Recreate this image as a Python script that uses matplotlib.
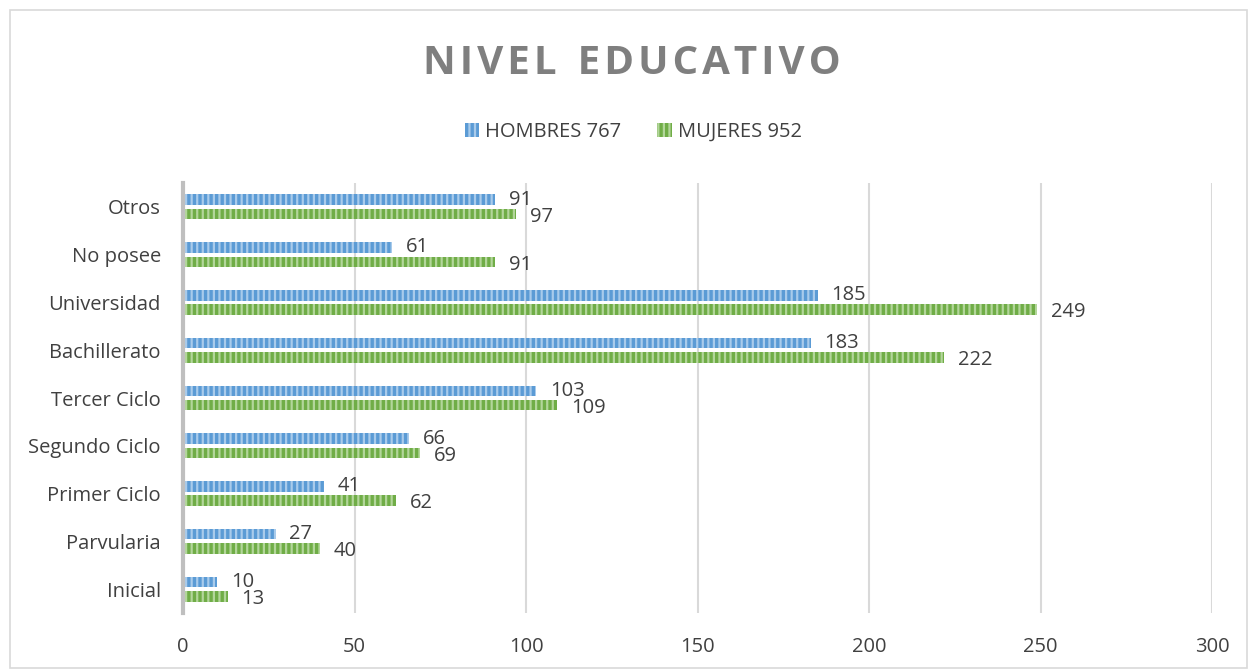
import numpy as np
import matplotlib.pyplot as plt
from matplotlib.patches import Rectangle, Patch

categories = ['Inicial', 'Parvularia', 'Primer Ciclo', 'Segundo Ciclo', 'Tercer Ciclo',
              'Bachillerato', 'Universidad', 'No posee', 'Otros']
hombres = [10, 27, 41, 66, 103, 183, 185, 61, 91]
mujeres = [13, 40, 62, 69, 109, 222, 249, 91, 97]
series_names = ['HOMBRES 767', 'MUJERES 952']
x_ticks = [0, 50, 100, 150, 200, 250, 300]

plt.rcParams['font.family'] = ['Open Sans', 'DejaVu Sans']
plt.rcParams['hatch.linewidth'] = 1.6

blue = '#5B9BD5'
blue_light = '#A9CBEB'
green = '#70AD47'
green_light = '#B3D69B'
text_col = '#404040'

fig = plt.figure(figsize=(12.49, 6.70), dpi=100)
fig.patches.append(Rectangle((10 / 1249, 2 / 670), 1237 / 1249, 658 / 670,
                             transform=fig.transFigure, fill=False,
                             edgecolor='#D9D9D9', linewidth=1.2))

ax = fig.add_axes([183 / 1249, 57 / 670, 1029 / 1249, 430 / 670])

y = np.arange(len(categories))
h = 0.22
off = 0.15
ax.barh(y + off, hombres, height=h, color=blue, edgecolor=blue_light,
        linewidth=0, hatch='|||', zorder=3)
ax.barh(y - off, mujeres, height=h, color=green, edgecolor=green_light,
        linewidth=0, hatch='|||', zorder=3)

for yi, v in zip(y, hombres):
    ax.annotate(str(v), (v, yi + off), xytext=(10, 0), textcoords='offset points',
                va='center', ha='left', fontsize=14.5, color=text_col)
for yi, v in zip(y, mujeres):
    ax.annotate(str(v), (v, yi - off), xytext=(10, -2), textcoords='offset points',
                va='center', ha='left', fontsize=14.5, color=text_col)

ax.set_xlim(0, 300)
ax.set_ylim(-0.5, len(categories) - 0.5)
ax.set_xticks(x_ticks)
ax.set_xticklabels([str(t) for t in x_ticks])
ax.set_yticks(y)
ax.set_yticklabels(categories)
ax.tick_params(axis='both', length=0, labelsize=14.5, labelcolor=text_col)
ax.tick_params(axis='x', pad=17)
ax.tick_params(axis='y', pad=16)
ax.grid(axis='x', color='#D9D9D9', linewidth=1.5, zorder=0)
for s in ['top', 'right', 'bottom']:
    ax.spines[s].set_visible(False)
ax.spines['left'].set_color('#BFBFBF')
ax.spines['left'].set_linewidth(3)
ax.spines['left'].set_zorder(4)

fig.text(0.506, 0.905, 'N I V E L   E D U C A T I V O'.replace(' ', '\u200a').replace('\u200a\u200a\u200a', '  '),
         ha='center', va='center', fontsize=29, fontweight='bold', color='#7F7F7F')

handles = [Patch(facecolor=blue, edgecolor=blue_light, linewidth=0, hatch='|||'),
           Patch(facecolor=green, edgecolor=green_light, linewidth=0, hatch='|||')]
fig.legend(handles, series_names, loc='center', bbox_to_anchor=(0.507, 0.803), ncol=2,
           frameon=False, fontsize=14.5, labelcolor=text_col, handlelength=0.7,
           handleheight=0.7, handletextpad=0.3, columnspacing=1.8)

fig.savefig('out.png', dpi=100)
